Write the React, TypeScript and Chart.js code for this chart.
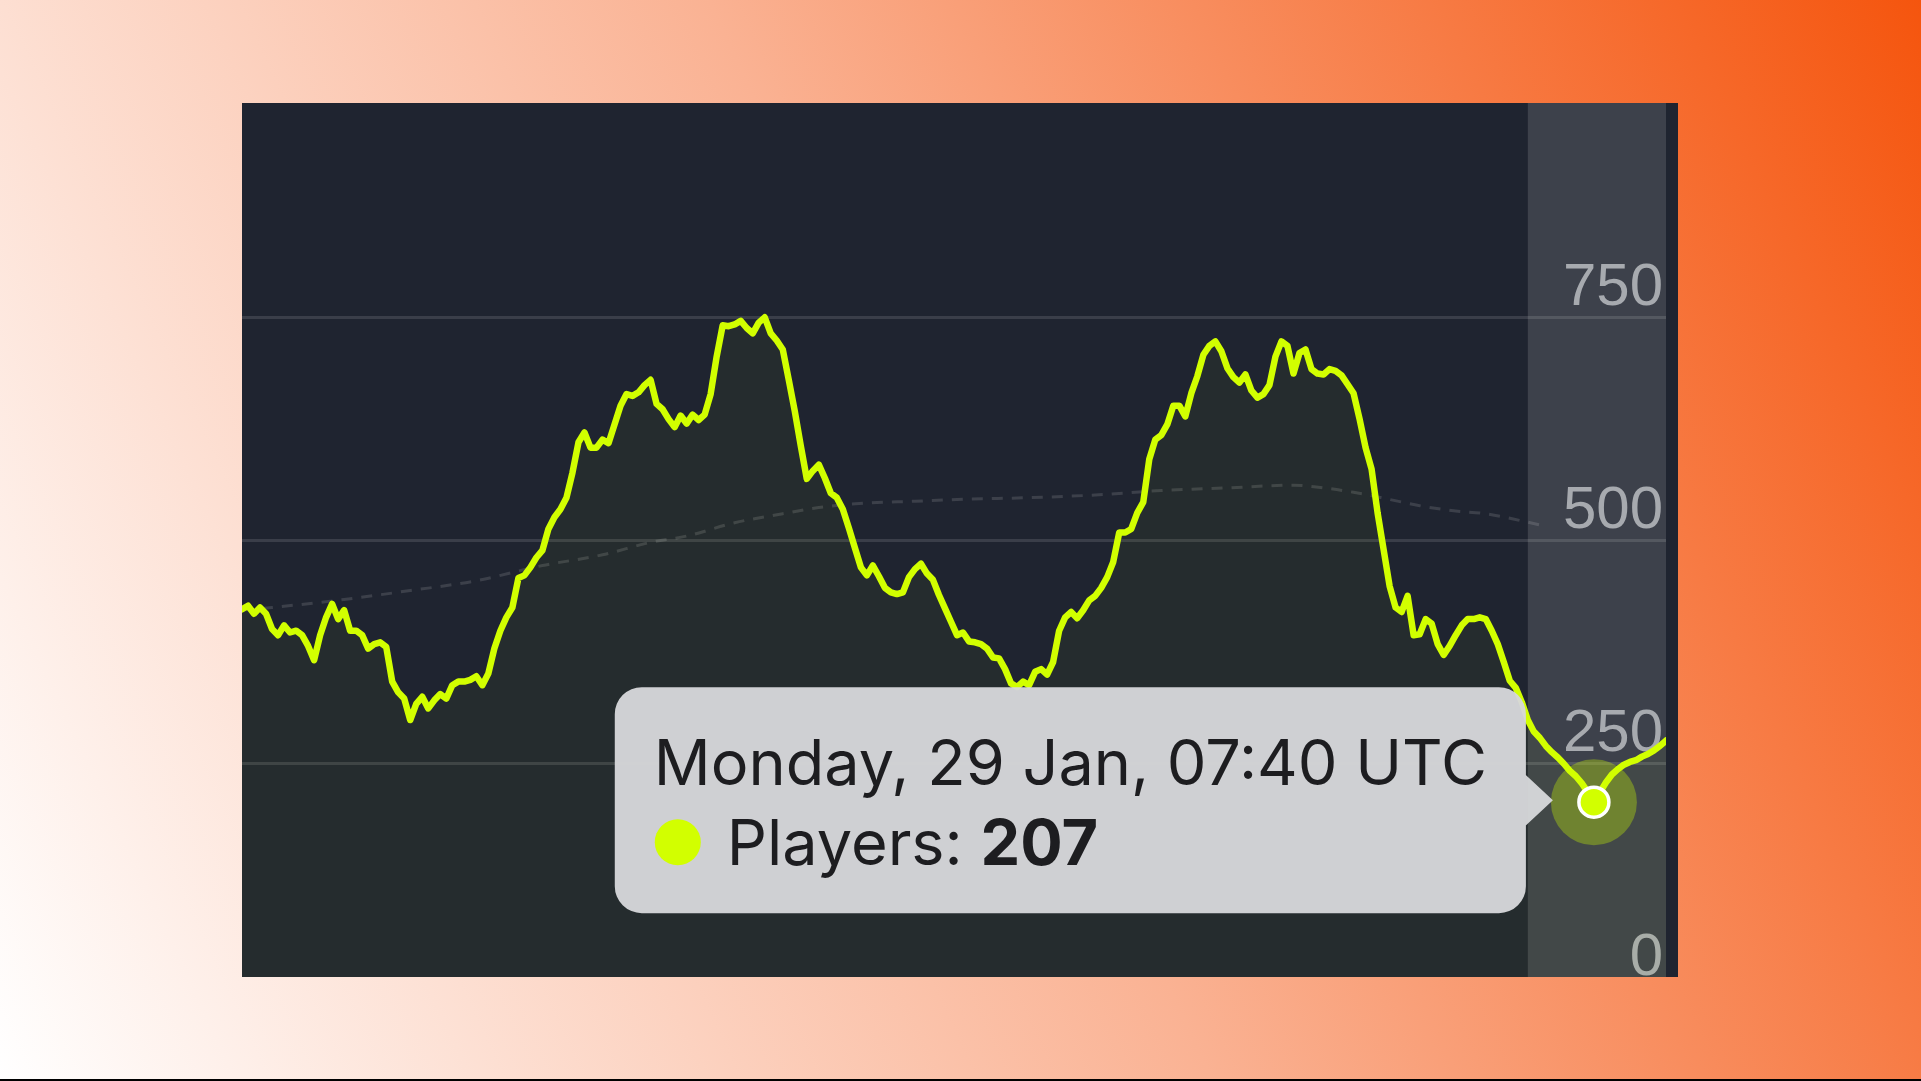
import React, { useEffect, useRef } from "react";
import { Chart, registerables } from "chart.js";

Chart.register(...registerables);

// Player count samples, evenly spaced in time (oldest first)
const playerCounts = [
  423, 427, 418, 425, 418, 401, 394, 405, 397, 399,
  394, 382, 366, 394, 414, 429, 412, 422, 399, 399,
  394, 379, 384, 386, 381, 342, 330, 323, 299, 317,
  325, 312, 321, 328, 323, 338, 342, 342, 344, 348,
  338, 351, 379, 399, 414, 425, 458, 461, 470, 481,
  489, 513, 526, 535, 548, 576, 610, 621, 604, 604,
  613, 609, 630, 651, 664, 662, 666, 674, 680, 653,
  647, 636, 627, 640, 631, 641, 635, 641, 664, 706,
  741, 740, 742, 746, 738, 732, 744, 750, 732, 724,
  714, 680, 645, 606, 569, 578, 585, 570, 553, 548,
  535, 514, 492, 470, 461, 472, 460, 447, 442, 440,
  442, 459, 468, 474, 463, 456, 439, 424, 409, 394,
  397, 387, 386, 384, 379, 369, 368, 356, 340, 336,
  342, 338, 353, 356, 350, 364, 399, 414, 420, 413,
  422, 433, 438, 447, 459, 476, 509, 509, 513, 531,
  543, 591, 613, 618, 630, 651, 651, 639, 665, 684,
  708, 718, 723, 712, 693, 683, 677, 686, 668, 660,
  664, 674, 706, 723, 718, 687, 710, 714, 692, 687,
  686, 692, 690, 685, 675, 665, 636, 604, 580, 531,
  490, 449, 425, 420, 438, 394, 395, 412, 407, 384,
  372, 382, 394, 405, 412, 412, 414, 412, 399, 384,
  364, 343, 335, 319, 299, 286, 279, 270, 263, 257,
  250, 242, 236, 228, 218, 207, 218, 229, 238, 244,
  249, 252, 254, 258, 261, 265, 270, 276,
];

// Smoothed average (dashed line), sampled at these sample indices
const averageIndices = [0, 5, 17, 28, 39, 50, 60, 68, 74, 82, 90, 96, 104, 112, 119, 131, 142, 153, 164, 175, 180, 185, 191, 196, 202, 207, 213, 217];
const averageValues = [422, 425, 434, 444, 455, 472, 484, 498, 505, 520, 530, 537, 542, 544, 546, 548, 551, 556, 559, 562, 559, 554, 546, 539, 533, 530, 522, 516];

const yTickValues = [0, 250, 500, 750];
const yMin = 0;
const yMax = 990;

const activeIndex = 225;
const activeTitle = "Monday, 29 Jan, 07:40 UTC";
const seriesLabel = "Players";
const highlightStartIndex = 214;

const LINE_COLOR = "#d2ff00";

export default function App() {
  const canvasRef = useRef<HTMLCanvasElement | null>(null);

  useEffect(() => {
    const canvas = canvasRef.current;
    if (!canvas) return;

    const stripPlugin = {
      id: "strip",
      beforeDraw(chart: any) {
        const { ctx, chartArea, scales } = chart;
        const x0 = scales.x.getPixelForValue(highlightStartIndex);
        ctx.save();
        ctx.fillStyle = "#3d414b";
        ctx.fillRect(x0, 0, chartArea.right - x0, chart.height);
        ctx.restore();
      },
    };

    const haloPlugin = {
      id: "halo",
      beforeDatasetsDraw(chart: any) {
        const { ctx, scales } = chart;
        const px = scales.x.getPixelForValue(activeIndex);
        const py = scales.y.getPixelForValue(playerCounts[activeIndex]);
        ctx.save();
        ctx.beginPath();
        ctx.arc(px, py, 43, 0, Math.PI * 2);
        ctx.fillStyle = "rgba(207,255,0,0.32)";
        ctx.fill();
        ctx.restore();
      },
    };

    const tooltipPlugin = {
      id: "fixedTooltip",
      afterDraw(chart: any) {
        const { ctx, scales } = chart;
        const value = playerCounts[activeIndex];
        const px = scales.x.getPixelForValue(activeIndex);
        const py = scales.y.getPixelForValue(value) - 2;
        const family = "Inter, 'Liberation Sans', sans-serif";
        const size = 63;
        const padX = 39;
        ctx.save();
        ctx.font = `400 ${size}px ${family}`;
        const titleW = ctx.measureText(activeTitle).width;
        const labelText = `${seriesLabel}: `;
        const labelW = ctx.measureText(labelText).width;
        ctx.font = `700 ${size}px ${family}`;
        const valueW = ctx.measureText(String(value)).width;
        const bodyW = 74 + labelW + valueW;
        const boxW = Math.max(titleW, bodyW) + padX * 2;
        const boxH = 226;
        const caretGap = 41;
        const caret = 27;
        const right = px - caretGap - caret;
        const left = right - boxW;
        const top = py - boxH / 2;

        ctx.beginPath();
        ctx.roundRect(left, top, boxW, boxH, 27);
        ctx.moveTo(right - 2, py - caret);
        ctx.lineTo(right + caret, py);
        ctx.lineTo(right - 2, py + caret);
        ctx.closePath();
        ctx.fillStyle = "rgba(214,215,218,0.96)";
        ctx.fill();

        ctx.fillStyle = "#1d1d20";
        ctx.textBaseline = "alphabetic";
        ctx.textAlign = "left";
        ctx.font = `400 ${size}px ${family}`;
        ctx.fillText(activeTitle, left + padX, top + 98);

        ctx.beginPath();
        ctx.arc(left + 63, top + 155, 23, 0, Math.PI * 2);
        ctx.fillStyle = LINE_COLOR;
        ctx.fill();

        ctx.fillStyle = "#1d1d20";
        ctx.font = `400 ${size}px ${family}`;
        ctx.fillText(labelText, left + 112, top + 178);
        ctx.font = `700 ${size}px ${family}`;
        ctx.fillText(String(value), left + 112 + labelW, top + 178);
        ctx.restore();
      },
    };

    const chart = new Chart(canvas, {
      type: "line",
      data: {
        datasets: [
          {
            label: seriesLabel,
            data: playerCounts.map((v, i) => ({ x: i, y: v })),
            borderColor: LINE_COLOR,
            borderWidth: 6.5,
            borderJoinStyle: "round",
            borderCapStyle: "round",
            fill: "origin",
            backgroundColor: "rgba(207,255,0,0.04)",
            tension: 0,
            pointRadius: (c: any) => (c.dataIndex === activeIndex ? 15 : 0),
            pointBackgroundColor: LINE_COLOR,
            pointBorderColor: "#ffffff",
            pointBorderWidth: 3.5,
            pointHoverRadius: 0,
            order: 0,
          },
          {
            label: "Average",
            data: averageIndices.map((idx, k) => ({ x: idx, y: averageValues[k] })),
            borderColor: "rgba(255,255,255,0.13)",
            borderWidth: 3,
            borderDash: [11, 9],
            fill: false,
            cubicInterpolationMode: "monotone",
            pointRadius: 0,
            order: 1,
          },
        ],
      },
      options: {
        responsive: false,
        animation: false,
        events: [],
        layout: { padding: { left: 0, right: 12, top: 0, bottom: 6 } },
        plugins: {
          legend: { display: false },
          tooltip: { enabled: false },
        },
        scales: {
          x: {
            type: "linear",
            min: 0,
            max: playerCounts.length - 1,
            display: false,
          },
          y: {
            position: "right",
            min: yMin,
            max: yMax,
            afterFit(scale: any) {
              scale.width = 0;
              scale.paddingTop = 0;
              scale.paddingBottom = 0;
            },
            afterBuildTicks(scale: any) {
              scale.ticks = yTickValues.map((v) => ({ value: v }));
            },
            border: { display: false },
            grid: {
              color: "rgba(255,255,255,0.12)",
              lineWidth: 3,
              drawTicks: false,
            },
            ticks: {
              mirror: true,
              padding: -3,
              labelOffset: -29,
              color: "#a7aaaf",
              font: { family: "'Liberation Sans', Arial, sans-serif", size: 60 },
              callback: (v: any) => String(v),
            },
          },
        },
      },
      plugins: [stripPlugin, haloPlugin, tooltipPlugin],
    });

    return () => chart.destroy();
  }, []);

  return (
    <div
      style={{
        position: "fixed",
        inset: 0,
        background: "linear-gradient(65deg, #ffffff 0%, #fab293 50%, #f5550e 100%)",
        overflow: "hidden",
      }}
    >
      <div
        style={{
          position: "absolute",
          left: 242,
          top: 103,
          width: 1436,
          height: 874,
          background: "#1f2430",
          overflow: "hidden",
        }}
      >
        <canvas ref={canvasRef} width={1436} height={890} style={{ display: "block" }} />
      </div>
      <div style={{ position: "absolute", left: 0, right: 0, bottom: 0, height: 2, background: "#000" }} />
    </div>
  );
}
